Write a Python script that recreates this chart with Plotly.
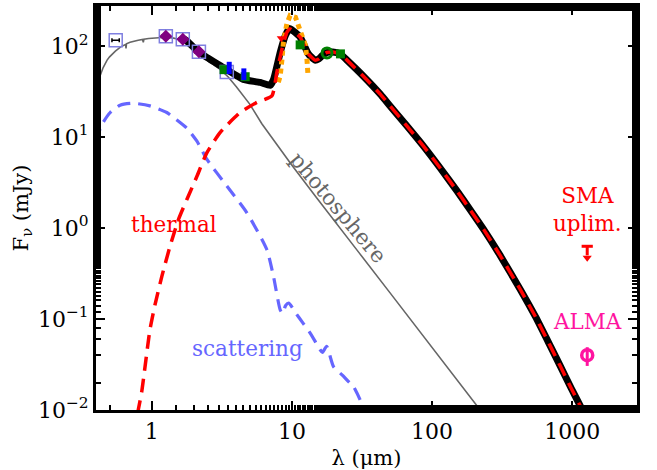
import numpy as np
import plotly.graph_objects as go

# ---------------- data (wavelength in micron, flux in mJy) ----------------
phot_wave = [0.42, 0.425, 0.43, 0.45, 0.48, 0.50, 0.55, 0.60, 0.65, 0.655, 0.66, 0.70,
             0.80, 0.86, 0.87, 0.88, 0.95, 1.0, 1.1, 1.25, 1.4, 1.6, 1.8, 2.0, 2.2,
             2.5, 3.0, 3.5, 4.0, 5.0, 6.1, 8.0, 10, 15, 20, 30, 50, 100, 200, 300]
phot_flux = [30, 52, 48, 58, 70, 76, 88, 98, 104, 94, 106, 110,
             116, 118, 110, 119, 121, 122, 124, 125, 123, 118, 106, 93, 82,
             69, 57, 46, 36, 23, 14, 7.8, 4.9, 2.15, 1.2, 0.54, 0.195, 0.049, 0.0122, 0.0054]

scat_wave = [0.40, 0.427, 0.45, 0.505, 0.594, 0.74, 0.97, 1.28, 1.5, 1.78, 2.1, 2.47,
             3.43, 4.77, 6.62, 7.4, 8.25, 8.6, 9.0, 9.5, 10.5, 12.0, 13.5, 15.9, 16.5,
             17.7, 19.8, 23.0, 26.0, 27.0, 30.7, 33.0]
scat_flux = [9.0, 12.2, 14.5, 18.6, 22.4, 23.5, 22.0, 18.6, 15.5, 12.5, 9.0, 5.7,
             2.9, 1.47, 0.58, 0.29, 0.126, 0.115, 0.14, 0.15, 0.12, 0.09, 0.07, 0.046, 0.043,
             0.05, 0.03, 0.024, 0.0197, 0.019, 0.0129, 0.0095]

therm_wave = [0.79, 0.848, 0.97, 1.055, 1.18, 1.35, 1.55, 1.78, 2.1, 2.47, 3.07, 4.27,
              5.62, 7.2, 7.8, 8.5, 9.2, 9.7, 10.3, 11.45, 12.3, 13.1, 14.6, 15.5, 16.4,
              17.8, 19.5, 22.1, 24.7, 32.5, 42.7, 50.5, 66, 87.1, 114.6, 151, 188, 234,
              306, 427, 547, 700, 826, 972, 1180, 1250]
therm_flux = [0.009, 0.0159, 0.076, 0.144, 0.294, 0.63, 1.24, 2.06, 3.7, 6.7, 11.2, 18.6,
              24, 28.3, 51, 93, 141, 154, 145, 125, 100, 82, 70, 72, 78,
              85, 86, 82, 70, 46.3, 29.6, 21.7, 13.3, 7.9, 4.54, 2.54, 1.57, 0.96,
              0.50, 0.21, 0.106, 0.05, 0.030, 0.018, 0.01, 0.008]

total_wave = [1.7, 1.78, 2.1, 2.47, 3.25, 4.05, 4.5, 5.94, 7.0, 7.4, 8.25, 8.97, 9.6,
              10.3, 11.45, 12.3, 13.1, 14.6, 15.5, 16.4, 17.8, 19.5, 22.1, 24.7, 32.5,
              42.7, 50.5, 66, 87.1, 114.6, 151, 188, 234, 306, 427, 547, 700, 826, 972,
              1180, 1250]
total_flux = [119, 114, 89, 75, 58, 47, 43, 39.8, 37, 43, 85, 130, 156,
              145, 125, 100, 82, 70, 72, 78, 85, 86, 82, 70, 46.3,
              29.6, 21.7, 13.3, 7.9, 4.54, 2.54, 1.57, 0.96, 0.50, 0.21, 0.106, 0.05, 0.030, 0.018,
              0.01, 0.008]

irs_wave = [8.0, 8.25, 8.5, 8.7, 9.2, 9.7, 10.6, 11.1, 11.8, 12.5, 12.8, 12.9, 13.0]
irs_flux = [40, 47, 72, 110, 175, 216, 207, 168, 130, 101, 72, 56, 50]

# photometry
sq_wave = [0.553, 1.26, 1.665, 2.17, 3.43]
sq_flux = [116, 128, 119, 86.5, 52]
dia_wave = [1.26, 1.665, 2.17]
dia_flux = [128, 119, 86.5]
blue_wave = [3.57, 4.54]
blue_flux = [57.4, 49.0]
blue_err_hi = [9.7, 7.8]
blue_err_lo = [8.3, 6.8]
green_wave = [3.28, 4.64, 11.45, 22.2]
green_flux = [55, 46, 103, 82]
gcirc_wave = [17.8]
gcirc_flux = [84]
tri_wave = [8.4]
tri_flux = [122]
sma_wave = [1280]
sma_uplim = [0.63]
alma_wave = [1280]
alma_flux = [0.040]
alma_err_hi = [0.009]
alma_err_lo = [0.0095]

xtick_vals = [1, 10, 100, 1000]
xtick_text = ["1", "10", "100", "1000"]
ytick_vals = [0.01, 0.1, 1, 10, 100]
ytick_text = ["10<sup>−2</sup>", "10<sup>−1</sup>", "10<sup>0</sup>", "10<sup>1</sup>", "10<sup>2</sup>"]

FONT = "DejaVu Serif"
RED = "#ff0000"
BLUE = "#6666ff"
GRAY = "#666666"
PINK = "#ff14a0"

fig = go.Figure()

# model curves
fig.add_trace(go.Scatter(x=phot_wave, y=phot_flux, mode="lines",
                         line=dict(color=GRAY, width=1.6)))
fig.add_trace(go.Scatter(x=scat_wave, y=scat_flux, mode="lines",
                         line=dict(color=BLUE, width=3.2, dash="13px,8px", shape="spline", smoothing=0.6)))
fig.add_trace(go.Scatter(x=total_wave, y=total_flux, mode="lines",
                         line=dict(color="black", width=7, shape="spline", smoothing=0.5)))
fig.add_trace(go.Scatter(x=irs_wave, y=irs_flux, mode="lines",
                         line=dict(color="#ffa500", width=5, dash="5px,4px")))
fig.add_trace(go.Scatter(x=therm_wave, y=therm_flux, mode="lines",
                         line=dict(color=RED, width=3.5, dash="14px,8px", shape="spline", smoothing=0.5)))

# photometry
fig.add_trace(go.Scatter(x=sq_wave, y=sq_flux, mode="markers",
                         marker=dict(symbol="square-open", size=13, color="#7f7fe0", line=dict(width=1.5)),
                         error_x=dict(type="percent", value=6, color="black", thickness=1.5, width=2)))
fig.add_trace(go.Scatter(x=dia_wave, y=dia_flux, mode="markers",
                         marker=dict(symbol="diamond", size=10, color="#800080"),
                         error_x=dict(type="percent", value=5, color="black", thickness=2, width=0)))
fig.add_trace(go.Scatter(x=green_wave, y=green_flux, mode="markers",
                         marker=dict(symbol="square", size=9, color="#008000"),
                         error_x=dict(type="percent", value=4, color="black", thickness=1.5, width=2)))
fig.add_trace(go.Scatter(x=blue_wave, y=blue_flux, mode="markers",
                         marker=dict(symbol="square", size=2, color="#0000ff"),
                         error_y=dict(type="data", array=blue_err_hi, arrayminus=blue_err_lo,
                                      color="#0000ff", thickness=5, width=0)))
fig.add_trace(go.Scatter(x=gcirc_wave, y=gcirc_flux, mode="markers",
                         marker=dict(symbol="circle-open", size=10, color="#008000", line=dict(width=3))))
fig.add_trace(go.Scatter(x=tri_wave, y=tri_flux, mode="markers",
                         marker=dict(symbol="triangle-down", size=8, color=RED)))

# SMA upper limit (arrow)
sma_tip = [v * 0.75 for v in sma_uplim]
fig.add_trace(go.Scatter(x=sma_wave * 2, y=[sma_uplim[0], sma_tip[0] * 1.06], mode="lines",
                         line=dict(color=RED, width=3)))
fig.add_trace(go.Scatter(x=sma_wave, y=sma_uplim, mode="markers",
                         marker=dict(symbol="line-ew", size=8, line=dict(color=RED, width=3))))
fig.add_trace(go.Scatter(x=sma_wave, y=sma_tip, mode="markers",
                         marker=dict(symbol="triangle-down", size=8, color=RED)))

# ALMA
fig.add_trace(go.Scatter(x=alma_wave, y=alma_flux, mode="markers",
                         marker=dict(symbol="circle-open", size=11, color=PINK, line=dict(width=3.5)),
                         error_y=dict(type="data", array=alma_err_hi, arrayminus=alma_err_lo,
                                      color=PINK, thickness=3, width=0)))

# labels
labels = [
    ("thermal", 1.44, 1.09, RED, 0),
    ("scattering", 4.8, 0.047, BLUE, 0),
    ("photosphere", 21.4, 1.68, GRAY, 50),
    ("SMA<br>uplim.", 1280, 1.6, RED, 0),
    ("ALMA", 1280, 0.093, PINK, 0),
]
for txt, lx, ly, col, ang in labels:
    fig.add_annotation(x=np.log10(lx), y=np.log10(ly), text=txt, showarrow=False,
                       textangle=ang, font=dict(family=FONT, size=21.5, color=col))

axis_common = dict(type="log", showline=True, linecolor="black", linewidth=3, mirror="allticks",
                   ticks="inside", ticklen=9, tickwidth=2, tickcolor="black", showgrid=False,
                   zeroline=False, automargin=False,
                   tickfont=dict(family=FONT, size=22, color="black"),
                   minor=dict(ticks="inside", ticklen=5, tickwidth=2, tickcolor="black", showgrid=False))

fig.update_xaxes(**axis_common, range=[np.log10(0.4), np.log10(2900)],
                 tickvals=xtick_vals, ticktext=xtick_text,
                 title=dict(text="λ (μm)", font=dict(family=FONT, size=21, color="black"), standoff=8))
fig.update_yaxes(**axis_common, range=[-2, 2.44],
                 tickvals=ytick_vals, ticktext=ytick_text,
                 title=dict(text="F<sub>ν</sub> (mJy)", font=dict(family=FONT, size=21, color="black"), standoff=4))

fig.update_layout(width=657, height=470, showlegend=False,
                  margin=dict(l=96, r=20, t=6, b=60),
                  paper_bgcolor="white", plot_bgcolor="white")

fig.write_html("out.html", config={"displayModeBar": False},
               post_script="document.body.style.margin='0px';")
